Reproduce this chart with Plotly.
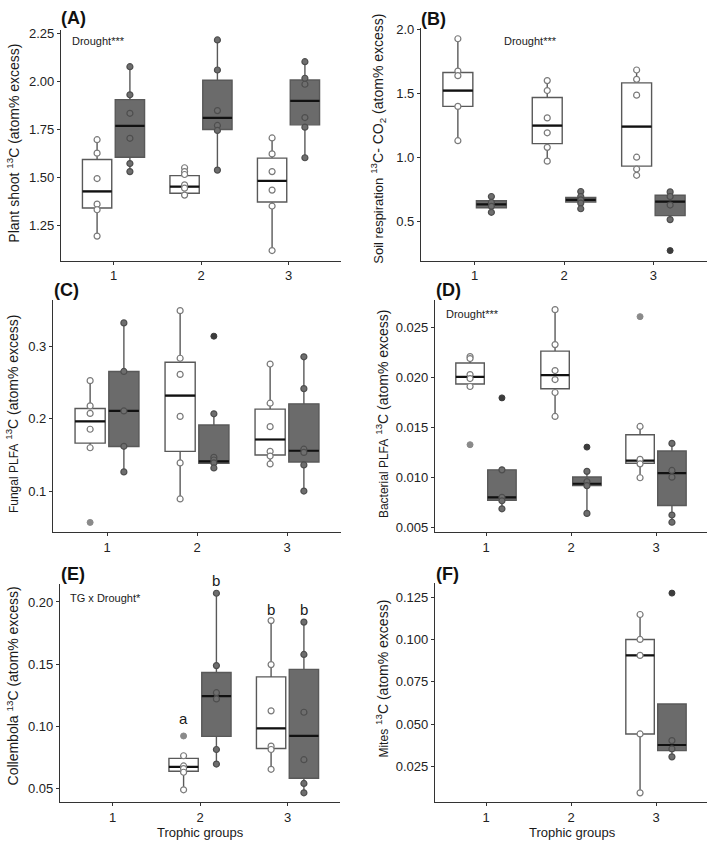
import plotly.graph_objects as go

W, H = 709, 842
TICK_VALS_X = [1, 2, 3]
TICK_TEXT_X = ["1", "2", "3"]

# ---------------- Panel A: Plant shoot ----------------
A_groups = [1, 2, 3]
A_ctrl_pts = [[1.696, 1.626, 1.494, 1.361, 1.332, 1.195],
              [1.550, 1.530, 1.515, 1.461, 1.444, 1.408],
              [1.705, 1.622, 1.530, 1.434, 1.351, 1.120]]
A_ctrl_out = [[], [], []]
A_ctrl_q1 = [1.341, 1.418, 1.372]
A_ctrl_med = [1.427, 1.452, 1.482]
A_ctrl_q3 = [1.593, 1.509, 1.600]
A_ctrl_lo = [1.195, 1.408, 1.120]
A_ctrl_hi = [1.696, 1.550, 1.705]
A_dr_pts = [[2.075, 1.929, 1.833, 1.703, 1.572, 1.530],
            [2.214, 2.058, 1.847, 1.770, 1.744, 1.538],
            [2.101, 2.015, 1.984, 1.811, 1.761, 1.602]]
A_dr_out = [[], [], []]
A_dr_q1 = [1.605, 1.749, 1.773]
A_dr_med = [1.768, 1.809, 1.898]
A_dr_q3 = [1.904, 2.005, 2.006]
A_dr_lo = [1.530, 1.538, 1.602]
A_dr_hi = [2.075, 2.214, 2.101]
A_yticks = [1.25, 1.50, 1.75, 2.00, 2.25]

# ---------------- Panel B: Soil respiration ----------------
B_groups = [1, 2, 3]
B_ctrl_pts = [[1.930, 1.677, 1.641, 1.400, 1.131],
              [1.602, 1.524, 1.310, 1.193, 1.079, 0.971],
              [1.685, 1.612, 1.488, 1.002, 0.909, 0.860]]
B_ctrl_out = [[], [], []]
B_ctrl_q1 = [1.400, 1.108, 0.932]
B_ctrl_med = [1.524, 1.250, 1.242]
B_ctrl_q3 = [1.666, 1.470, 1.584]
B_ctrl_lo = [1.131, 0.971, 0.860]
B_ctrl_hi = [1.930, 1.602, 1.685]
B_dr_pts = [[0.694, 0.648, 0.617, 0.570],
            [0.733, 0.694, 0.668, 0.642, 0.598],
            [0.730, 0.694, 0.627, 0.513]]
B_dr_out = [[], [], [0.270]]
B_dr_q1 = [0.606, 0.650, 0.544]
B_dr_med = [0.632, 0.668, 0.653]
B_dr_q3 = [0.660, 0.686, 0.704]
B_dr_lo = [0.570, 0.598, 0.513]
B_dr_hi = [0.694, 0.733, 0.730]
B_yticks = [0.5, 1.0, 1.5, 2.0]

# ---------------- Panel C: Fungal PLFA ----------------
C_groups = [1, 2, 3]
C_ctrl_pts = [[0.253, 0.218, 0.2076, 0.1856, 0.160],
              [0.350, 0.284, 0.2616, 0.2034, 0.139, 0.089],
              [0.276, 0.2217, 0.1892, 0.1549, 0.1485, 0.1375]]
C_ctrl_out = [[0.0565], [], []]
C_ctrl_q1 = [0.1664, 0.1549, 0.150]
C_ctrl_med = [0.1966, 0.2323, 0.1714]
C_ctrl_q3 = [0.2144, 0.2785, 0.2135]
C_ctrl_lo = [0.1604, 0.089, 0.1375]
C_ctrl_hi = [0.2529, 0.350, 0.2757]
C_dr_pts = [[0.333, 0.2657, 0.211, 0.162, 0.1265],
            [0.207, 0.1467, 0.143, 0.139, 0.132],
            [0.286, 0.2419, 0.158, 0.1535, 0.1362, 0.100]]
C_dr_out = [[], [0.3146], []]
C_dr_q1 = [0.1618, 0.1384, 0.1403]
C_dr_med = [0.2112, 0.1412, 0.1558]
C_dr_q3 = [0.2657, 0.1915, 0.2208]
C_dr_lo = [0.1265, 0.132, 0.100]
C_dr_hi = [0.333, 0.2071, 0.2858]
C_yticks = [0.1, 0.2, 0.3]

# ---------------- Panel D: Bacterial PLFA ----------------
D_groups = [1, 2, 3]
D_ctrl_pts = [[0.0221, 0.0219, 0.0203, 0.0199, 0.0191],
              [0.0268, 0.0233, 0.0207, 0.0198, 0.0185, 0.0161],
              [0.0151, 0.0118, 0.01135, 0.00996]]
D_ctrl_out = [[0.01327], [], [0.0261]]
D_ctrl_q1 = [0.01935, 0.01888, 0.01141]
D_ctrl_med = [0.02007, 0.02024, 0.01168]
D_ctrl_q3 = [0.02146, 0.02265, 0.01426]
D_ctrl_lo = [0.01935, 0.01611, 0.00996]
D_ctrl_hi = [0.02206, 0.02675, 0.01512]
D_dr_pts = [[0.01075, 0.0080, 0.00765, 0.00685],
            [0.0106, 0.00956, 0.00917, 0.00639],
            [0.0134, 0.01069, 0.01002, 0.00622, 0.0055]]
D_dr_out = [[0.01796], [0.01303], []]
D_dr_q1 = [0.00771, 0.00917, 0.00718]
D_dr_med = [0.0080, 0.00936, 0.01042]
D_dr_q3 = [0.01075, 0.01003, 0.01264]
D_dr_lo = [0.00685, 0.00639, 0.0055]
D_dr_hi = [0.01075, 0.01059, 0.0134]
D_yticks = [0.005, 0.010, 0.015, 0.020, 0.025]

# ---------------- Panel E: Collembola ----------------
E_groups = [2, 3]
E_ctrl_pts = [[0.0763, 0.0681, 0.0660, 0.063, 0.0489],
              [0.185, 0.1496, 0.1124, 0.084, 0.0813, 0.0654]]
E_ctrl_out = [[0.0922], []]
E_ctrl_q1 = [0.0638, 0.0821]
E_ctrl_med = [0.0673, 0.0983]
E_ctrl_q3 = [0.0742, 0.1397]
E_ctrl_lo = [0.0489, 0.0654]
E_ctrl_hi = [0.0742, 0.1851]
E_dr_pts = [[0.207, 0.1488, 0.127, 0.122, 0.0813, 0.0696],
            [0.1838, 0.1578, 0.1113, 0.0731, 0.054, 0.0465]]
E_dr_out = [[], []]
E_dr_q1 = [0.0919, 0.0582]
E_dr_med = [0.1243, 0.0922]
E_dr_q3 = [0.1432, 0.1458]
E_dr_lo = [0.0696, 0.0465]
E_dr_hi = [0.2072, 0.1838]
E_yticks = [0.05, 0.10, 0.15, 0.20]
# significance letters: text, group, treatment, pixel gap above the group's top value
E_letters = ["a", "b", "b", "b"]
E_letter_groups = [2, 2, 3, 3]
E_letter_treat = ["ctrl", "dr", "ctrl", "dr"]
E_letter_gap = [17, 13, 11, 13]

# ---------------- Panel F: Mites ----------------
F_groups = [3]
F_ctrl_pts = [[0.1147, 0.100, 0.0906, 0.0443, 0.0096]]
F_ctrl_out = [[]]
F_ctrl_q1 = [0.0443]
F_ctrl_med = [0.0906]
F_ctrl_q3 = [0.100]
F_ctrl_lo = [0.0096]
F_ctrl_hi = [0.1147]
F_dr_pts = [[0.0404, 0.0355, 0.0308]]
F_dr_out = [[0.1273]]
F_dr_q1 = [0.0345]
F_dr_med = [0.0378]
F_dr_q3 = [0.062]
F_dr_lo = [0.0308]
F_dr_hi = [0.062]
F_yticks = [0.025, 0.050, 0.075, 0.100, 0.125]

# ---------------- styling ----------------
FONT = "Liberation Sans, Arial, Helvetica, sans-serif"
OFF = 0.1875
BW = 0.335
CTRL_FILL = "#ffffff"
DR_FILL = "#6b6b6b"
BOX_LINE = "#595959"

fig = go.Figure()


def px_x(p):
    return p / W


def px_y(p):
    return 1 - p / H


def axes_of(idx):
    return ("x" if idx == 1 else "x%d" % idx), ("y" if idx == 1 else "y%d" % idx)


def add_treatment(idx, groups, q1, med, q3, lo, hi, pts, outs, treat):
    xa, ya = axes_of(idx)
    off = -OFF if treat == "ctrl" else OFF
    xs = [g + off for g in groups]
    fig.add_trace(go.Box(
        x=xs, q1=q1, median=med, q3=q3, lowerfence=lo, upperfence=hi,
        width=BW, whiskerwidth=0, boxpoints=False,
        fillcolor=CTRL_FILL if treat == "ctrl" else DR_FILL,
        line=dict(color=BOX_LINE, width=1.4),
        xaxis=xa, yaxis=ya, showlegend=False, hoverinfo="skip"))
    # median lines (black, thicker)
    mx, my = [], []
    for x, m in zip(xs, med):
        mx += [x - BW / 2, x + BW / 2, None]
        my += [m, m, None]
    fig.add_trace(go.Scatter(x=mx, y=my, mode="lines",
                             line=dict(color="#111111", width=2.2),
                             xaxis=xa, yaxis=ya, showlegend=False, hoverinfo="skip"))
    # outliers (drawn by boxplot)
    ox, oy = [], []
    for x, o in zip(xs, outs):
        ox += [x] * len(o)
        oy += o
    if ox:
        col = "#8a8a8a" if treat == "ctrl" else "#3c3c3c"
        fig.add_trace(go.Scatter(x=ox, y=oy, mode="markers",
                                 marker=dict(size=6, color=col, line=dict(color=col, width=1)),
                                 xaxis=xa, yaxis=ya, showlegend=False, hoverinfo="skip"))
    # data points
    dx, dy = [], []
    for x, p in zip(xs, pts):
        dx += [x] * len(p)
        dy += p
    if treat == "ctrl":
        mk = dict(size=6, color="#ffffff", line=dict(color="#7a7a7a", width=1.2))
    else:
        mk = dict(size=6, color="#6e6e6e", line=dict(color="#4e4e4e", width=1.2))
    fig.add_trace(go.Scatter(x=dx, y=dy, mode="markers", marker=mk,
                             xaxis=xa, yaxis=ya, showlegend=False, hoverinfo="skip"))


panels = [
    (1, A_groups, (A_ctrl_q1, A_ctrl_med, A_ctrl_q3, A_ctrl_lo, A_ctrl_hi, A_ctrl_pts, A_ctrl_out),
     (A_dr_q1, A_dr_med, A_dr_q3, A_dr_lo, A_dr_hi, A_dr_pts, A_dr_out)),
    (2, B_groups, (B_ctrl_q1, B_ctrl_med, B_ctrl_q3, B_ctrl_lo, B_ctrl_hi, B_ctrl_pts, B_ctrl_out),
     (B_dr_q1, B_dr_med, B_dr_q3, B_dr_lo, B_dr_hi, B_dr_pts, B_dr_out)),
    (3, C_groups, (C_ctrl_q1, C_ctrl_med, C_ctrl_q3, C_ctrl_lo, C_ctrl_hi, C_ctrl_pts, C_ctrl_out),
     (C_dr_q1, C_dr_med, C_dr_q3, C_dr_lo, C_dr_hi, C_dr_pts, C_dr_out)),
    (4, D_groups, (D_ctrl_q1, D_ctrl_med, D_ctrl_q3, D_ctrl_lo, D_ctrl_hi, D_ctrl_pts, D_ctrl_out),
     (D_dr_q1, D_dr_med, D_dr_q3, D_dr_lo, D_dr_hi, D_dr_pts, D_dr_out)),
    (5, E_groups, (E_ctrl_q1, E_ctrl_med, E_ctrl_q3, E_ctrl_lo, E_ctrl_hi, E_ctrl_pts, E_ctrl_out),
     (E_dr_q1, E_dr_med, E_dr_q3, E_dr_lo, E_dr_hi, E_dr_pts, E_dr_out)),
    (6, F_groups, (F_ctrl_q1, F_ctrl_med, F_ctrl_q3, F_ctrl_lo, F_ctrl_hi, F_ctrl_pts, F_ctrl_out),
     (F_dr_q1, F_dr_med, F_dr_q3, F_dr_lo, F_dr_hi, F_dr_pts, F_dr_out)),
]
for idx, groups, c, d in panels:
    add_treatment(idx, groups, *c, "ctrl")
    add_treatment(idx, groups, *d, "dr")

# pixel boxes of each plot area: (left, right, top, bottom)
AREAS = {
    1: (61, 341, 25, 258),
    2: (421, 707, 23, 258),
    3: (53, 341, 298, 532),
    4: (435, 707, 298, 532),
    5: (60, 340, 585, 805),
    6: (435, 707, 584, 805),
}
YRANGES = {
    1: [1.068, 2.267],
    2: [0.192, 2.016],
    3: [0.0433, 0.3645],
    4: [0.00453, 0.02775],
    5: [0.0388, 0.2141],
    6: [0.004, 0.133],
}
YTICKS = {1: (A_yticks, ".2f"), 2: (B_yticks, ".1f"), 3: (C_yticks, ".1f"),
          4: (D_yticks, ".3f"), 5: (E_yticks, ".2f"), 6: (F_yticks, ".3f")}

layout = dict(
    width=W, height=H, margin=dict(l=0, r=0, t=0, b=0),
    paper_bgcolor="white", plot_bgcolor="white", boxmode="overlay",
    font=dict(family=FONT, color="#1a1a1a"), showlegend=False,
)
for idx, (l, r, t, b) in AREAS.items():
    sfx = "" if idx == 1 else str(idx)
    ticks, fmt = YTICKS[idx]
    layout["xaxis" + sfx] = dict(
        domain=[px_x(l), px_x(r)], range=[0.4, 3.6], anchor="y" + sfx,
        tickvals=TICK_VALS_X, ticktext=TICK_TEXT_X, ticks="outside", ticklen=3,
        tickcolor="#333333", showline=True, linecolor="#333333", linewidth=1.2,
        showgrid=False, zeroline=False, tickfont=dict(size=13, color="#222222"))
    layout["yaxis" + sfx] = dict(
        domain=[px_y(b), px_y(t)], range=YRANGES[idx], anchor="x" + sfx,
        tickvals=ticks, tickformat=fmt, ticks="outside", ticklen=3,
        tickcolor="#333333", showline=True, linecolor="#333333", linewidth=1.2,
        showgrid=False, zeroline=False, tickfont=dict(size=13, color="#222222"))

fig.update_layout(**layout)

ann = []
# panel labels
for lab, x, y in [("(A)", 59, 13), ("(B)", 419, 14), ("(C)", 52, 288),
                  ("(D)", 434, 288), ("(E)", 59, 574), ("(F)", 434, 574)]:
    ann.append(dict(text="<b>%s</b>" % lab, x=px_x(x), y=px_y(y), xref="paper", yref="paper",
                    xanchor="left", yanchor="middle", showarrow=False,
                    font=dict(size=18, family=FONT, color="#111111")))

SM = "<span style='font-size:12px'>%s</span>"
SM13 = "<span style='font-size:13px'>%s</span>"
ytitles = [
    ("Plant shoot <sup>13</sup>C (atom% excess)", 13, 140, 14),
    (SM13 % "Soil respiration" + " <sup>13</sup>C- CO<sub>2</sub> (atom% excess)", 378, 135, 14),
    (SM % "Fungal PLFA" + " <sup>13</sup>C (atom% excess)", 12, 413, 14),
    (SM % "Bacterial PLFA" + " <sup>13</sup>C (atom% excess)", 382, 413, 14),
    ("Collembola <sup>13</sup>C (atom% excess)", 13, 688, 14),
    (SM % "Mites" + " <sup>13</sup>C (atom% excess)", 382, 680, 14),
]
for txt, x, y, fs in ytitles:
    ann.append(dict(text=txt, x=px_x(x), y=px_y(y), xref="paper", yref="paper",
                    xanchor="center", yanchor="middle", textangle=-90, showarrow=False,
                    font=dict(size=fs, family=FONT, color="#1a1a1a")))

for x in (200, 572):
    ann.append(dict(text="Trophic groups", x=px_x(x), y=px_y(835), xref="paper", yref="paper",
                    xanchor="center", yanchor="middle", showarrow=False,
                    font=dict(size=13, family=FONT, color="#1a1a1a")))

for txt, x, y in [("Drought***", 70, 36), ("Drought***", 502, 36),
                  ("Drought***", 444, 312), ("TG x Drought*", 68, 599)]:
    ann.append(dict(text=txt, x=px_x(x), y=px_y(y), xref="paper", yref="paper",
                    xanchor="left", yanchor="middle", showarrow=False,
                    font=dict(size=11, family=FONT, color="#1a1a1a")))

# significance letters in panel E, anchored on each group's highest value
for lt, g, tr, gap in zip(E_letters, E_letter_groups, E_letter_treat, E_letter_gap):
    gi = E_groups.index(g)
    if tr == "ctrl":
        top = max([E_ctrl_hi[gi]] + E_ctrl_out[gi])
    else:
        top = max([E_dr_hi[gi]] + E_dr_out[gi])
    ann.append(dict(text=lt, x=g + (-OFF if tr == "ctrl" else OFF), y=top,
                    xref="x5", yref="y5", xanchor="center", yanchor="middle",
                    yshift=gap, showarrow=False,
                    font=dict(size=15, family=FONT, color="#1a1a1a")))

fig.update_layout(annotations=ann)
fig.write_html("out.html",
               config={"displayModeBar": False},
               post_script="document.body.style.margin='0px';document.body.style.overflow='hidden';")
